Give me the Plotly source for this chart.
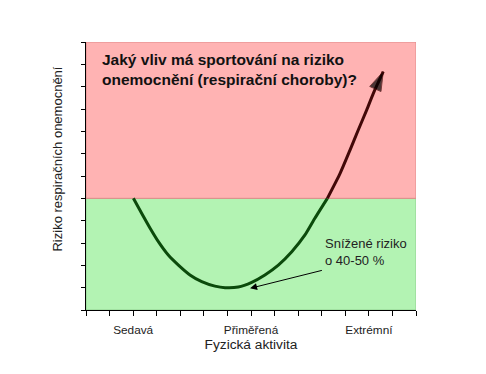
import plotly.graph_objects as go

# ---- data ----
categories = ["Sedavá", "Přiměřená", "Extrémní"]
category_ticks = [2, 7, 12]
n_ticks_x = 14
n_ticks_y = 12
risk_threshold = 5

# curve: part below threshold (green) and above (red)
curve_x_low = [2.01, 2.36, 2.72, 3.07, 3.49, 3.92, 4.41, 4.91, 5.47, 5.90, 6.46, 7.03, 7.59, 8.16, 8.73, 9.29, 9.71, 10.24]
curve_y_low = [5.00, 4.33, 3.66, 3.06, 2.46, 2.01, 1.57, 1.27, 1.07, 1.00, 1.03, 1.24, 1.57, 2.01, 2.61, 3.36, 4.11, 5.00]
curve_x_high = [10.24, 10.78, 11.20, 11.55, 11.91, 12.19, 12.61]
curve_y_high = [5.00, 6.12, 7.16, 8.06, 8.96, 9.70, 10.67]

title_text = "Jaký vliv má sportování na riziko<br>onemocnění (respirační choroby)?"
note_text = "Snížené riziko<br>o 40-50 %"
note_arrow_from = (10.07, 1.79)
note_arrow_to = (6.96, 0.97)
x_title = "Fyzická aktivita"
y_title = "Riziko respiračních onemocnění"

FONT = "Arial, Liberation Sans, sans-serif"

fig = go.Figure()

# background zones
fig.add_shape(type="rect", xref="x", yref="y", x0=0, x1=n_ticks_x, y0=0, y1=risk_threshold,
              fillcolor="#B3F3B3", line=dict(color="#8FCF8F", width=1), layer="below")
fig.add_shape(type="rect", xref="x", yref="y", x0=0, x1=n_ticks_x, y0=risk_threshold, y1=n_ticks_y,
              fillcolor="#FFB3B3", line=dict(color="#E08A8A", width=1), layer="below")

fig.add_trace(go.Scatter(x=curve_x_low, y=curve_y_low, mode="lines",
                         line=dict(color="#0B4A0B", width=3, shape="spline", smoothing=0.6),
                         hoverinfo="skip", showlegend=False))
fig.add_trace(go.Scatter(x=curve_x_high, y=curve_y_high, mode="lines+markers",
                         line=dict(color="#420808", width=3, shape="spline", smoothing=0.6),
                         marker=dict(size=[0] * (len(curve_x_high) - 1) + [20], symbol="arrow",
                                     angleref="previous", color="black"),
                         hoverinfo="skip", showlegend=False))

# title annotation
fig.add_annotation(text="<b>" + title_text + "</b>", xref="paper", yref="paper",
                   x=0.043, y=0.975, xanchor="left", yanchor="top", align="left",
                   showarrow=False, font=dict(family=FONT, size=15.5, color="#111111"))

# note and arrow
fig.add_annotation(text=note_text, xref="x", yref="y", x=note_arrow_from[0], y=2.6,
                   xanchor="left", yanchor="middle", align="left", showarrow=False,
                   font=dict(family=FONT, size=13, color="#222222"))
fig.add_annotation(text="", xref="x", yref="y", axref="x", ayref="y",
                   x=note_arrow_to[0], y=note_arrow_to[1],
                   ax=note_arrow_from[0], ay=note_arrow_from[1],
                   showarrow=True, arrowhead=2, arrowwidth=1, arrowsize=1.4, arrowcolor="black")

# y title
fig.add_annotation(text=y_title, xref="paper", yref="y", x=-0.085, y=6.78,
                   xanchor="center", yanchor="middle", textangle=-90, showarrow=False,
                   font=dict(family=FONT, size=13, color="#222222"))

tick_text = [""] * (n_ticks_x + 1)
for c, p in zip(categories, category_ticks):
    tick_text[p] = c

fig.update_xaxes(range=[0, n_ticks_x], tickvals=list(range(n_ticks_x + 1)), ticktext=tick_text,
                 showgrid=False, zeroline=False, showline=True, linecolor="black", linewidth=1,
                 ticks="outside", ticklen=5, tickcolor="black", tickwidth=1, ticklabelstandoff=4,
                 tickfont=dict(family=FONT, size=11.8, color="#222222"),
                 title=dict(text=x_title, font=dict(family=FONT, size=13.7, color="#222222"), standoff=3))
fig.update_yaxes(range=[0, n_ticks_y], tickvals=list(range(n_ticks_y + 1)),
                 ticktext=[""] * (n_ticks_y + 1),
                 showgrid=False, zeroline=False, showline=True, linecolor="black", linewidth=1,
                 ticks="outside", ticklen=4, tickcolor="black", tickwidth=1)

# the page adds an 8 px body margin; compensate so the plot area lands at 86..416 x 42..310
fig.update_layout(width=486, height=374, margin=dict(l=78, r=78, t=34, b=72),
                  paper_bgcolor="white", plot_bgcolor="white", showlegend=False)

fig.write_html("out.html")
